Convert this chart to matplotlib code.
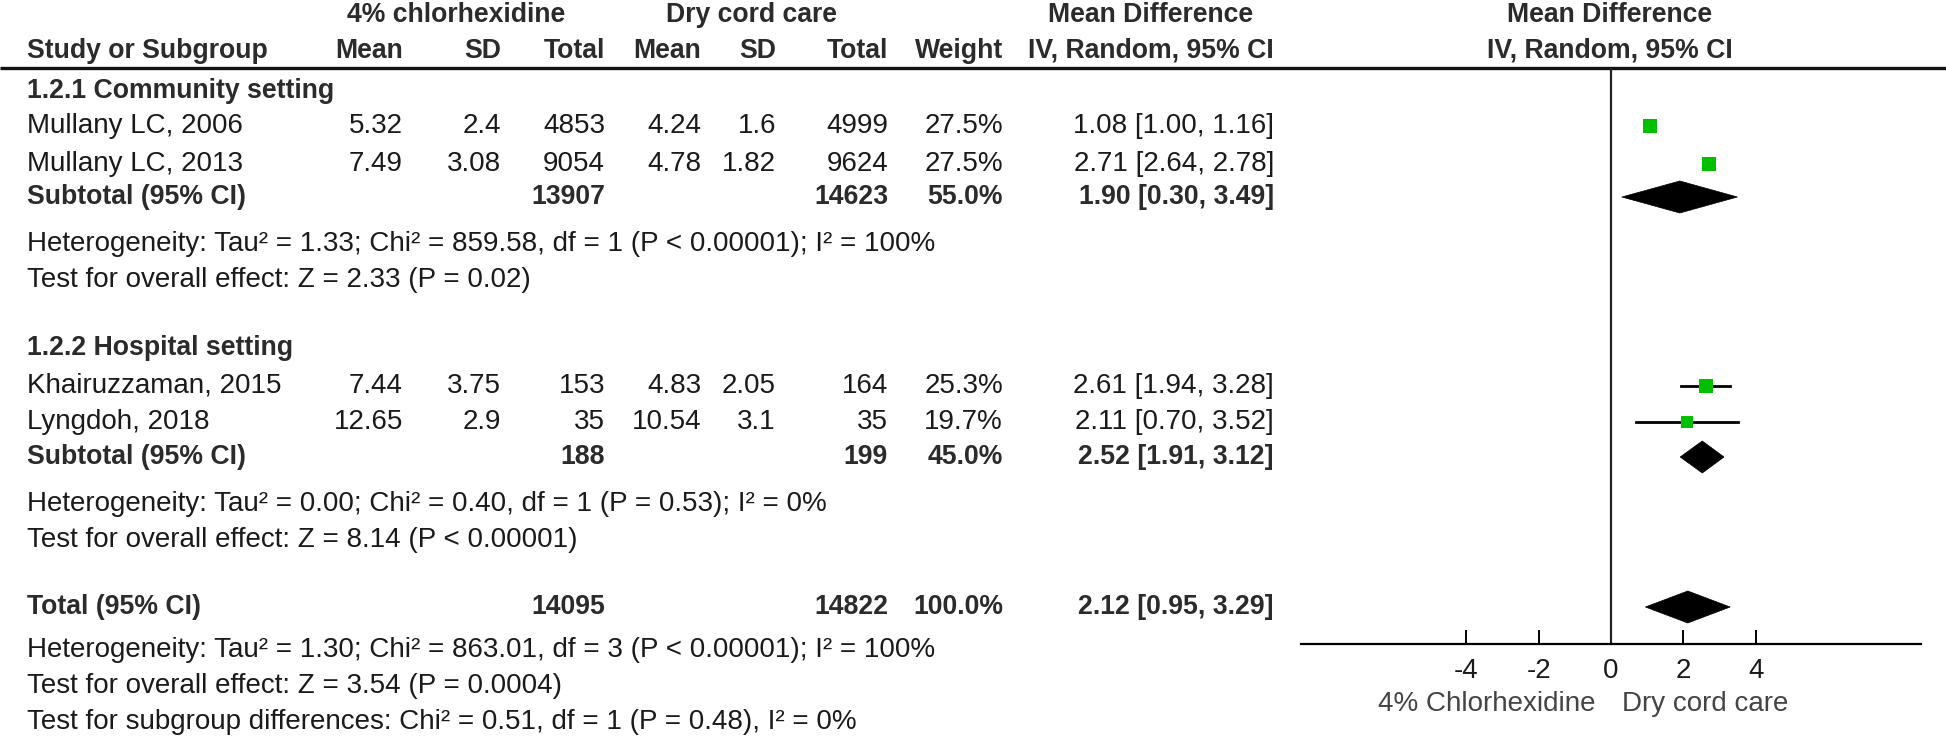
import matplotlib
matplotlib.use("Agg")
import matplotlib.pyplot as plt
from matplotlib.patches import Polygon
import numpy as np

plt.rcParams["font.family"] = ["Liberation Sans", "DejaVu Sans"]

# ---- data ----
studies = ["Mullany LC, 2006", "Mullany LC, 2013", "Khairuzzaman, 2015", "Lyngdoh, 2018"]
chx_mean = [5.32, 7.49, 7.44, 12.65]
chx_sd = [2.4, 3.08, 3.75, 2.9]
chx_n = [4853, 9054, 153, 35]
dry_mean = [4.24, 4.78, 4.83, 10.54]
dry_sd = [1.6, 1.82, 2.05, 3.1]
dry_n = [4999, 9624, 164, 35]
weight = [27.5, 27.5, 25.3, 19.7]
md = [1.08, 2.71, 2.61, 2.11]
md_lo = [1.00, 2.64, 1.94, 0.70]
md_hi = [1.16, 2.78, 3.28, 3.52]

groups = ["1.2.1 Community setting", "1.2.2 Hospital setting"]
pool_label = ["Subtotal (95% CI)", "Subtotal (95% CI)", "Total (95% CI)"]
pool_chx_n = [13907, 188, 14095]
pool_dry_n = [14623, 199, 14822]
pool_weight = [55.0, 45.0, 100.0]
pool_md = [1.90, 2.52, 2.12]
pool_lo = [0.30, 1.91, 0.95]
pool_hi = [3.49, 3.12, 3.29]
pool_notes = [
    ["Heterogeneity: Tau\u00b2 = 1.33; Chi\u00b2 = 859.58, df = 1 (P < 0.00001); I\u00b2 = 100%",
     "Test for overall effect: Z = 2.33 (P = 0.02)"],
    ["Heterogeneity: Tau\u00b2 = 0.00; Chi\u00b2 = 0.40, df = 1 (P = 0.53); I\u00b2 = 0%",
     "Test for overall effect: Z = 8.14 (P < 0.00001)"],
    ["Heterogeneity: Tau\u00b2 = 1.30; Chi\u00b2 = 863.01, df = 3 (P < 0.00001); I\u00b2 = 100%",
     "Test for overall effect: Z = 3.54 (P = 0.0004)",
     "Test for subgroup differences: Chi\u00b2 = 0.51, df = 1 (P = 0.48), I\u00b2 = 0%"],
]
xticks = [-4, -2, 0, 2, 4]
favours = ["4% Chlorhexidine", "Dry cord care"]

# ---- layout (pixels, top-down) ----
W, H = 1946, 738
FS, FSB = 20, 19.2
TXT, TXTB = "#1a1a1a", "#2b2b2b"
GREEN = "#00c000"
y_study = [126, 164, 386, 422]
y_group = [91, 348]
y_pool = [197, 457, 607]
y_note = [[244, 280], [504, 540], [650, 686, 722]]
col_r = [403, 501, 605, 701, 776, 888, 1003, 1274]   # right edges of numeric columns
name_x = 27
ax_l, ax_r, ax_top, ax_bot = 1301, 1921, 68, 644
XLIM = 8.56

fig = plt.figure(figsize=(W / 100, H / 100), dpi=100)
tab = fig.add_axes([0, 0, 1, 1])
tab.set_xlim(0, W); tab.set_ylim(H, 0); tab.axis("off")


def put(x, y, s, ha="left", bold=False, color=None, size=None):
    tab.text(x, y, s, ha=ha, va="center",
             fontsize=size or (FSB if bold else FS),
             color=color or (TXTB if bold else TXT),
             fontweight="bold" if bold else "normal")


# header
put(456, 15, "4% chlorhexidine", ha="center", bold=True)
put(751, 15, "Dry cord care", ha="center", bold=True)
put(1151, 15, "Mean Difference", ha="center", bold=True)
put(1610, 15, "Mean Difference", ha="center", bold=True)
put(name_x, 51, "Study or Subgroup", bold=True)
for x, s in zip(col_r, ["Mean", "SD", "Total", "Mean", "SD", "Total", "Weight", "IV, Random, 95% CI"]):
    put(x, 51, s, ha="right", bold=True)
put(1610, 51, "IV, Random, 95% CI", ha="center", bold=True)
tab.plot([0, W], [ax_top, ax_top], color="#111111", lw=2.4, solid_capstyle="butt")

# groups and studies
for g, y in zip(groups, y_group):
    put(name_x, y, g, bold=True)
for i, s in enumerate(studies):
    y = y_study[i]
    vals = [f"{chx_mean[i]:g}", f"{chx_sd[i]:g}", f"{chx_n[i]}", f"{dry_mean[i]:g}",
            f"{dry_sd[i]:g}", f"{dry_n[i]}", f"{weight[i]:.1f}%",
            f"{md[i]:.2f} [{md_lo[i]:.2f}, {md_hi[i]:.2f}]"]
    put(name_x, y, s)
    for x, v in zip(col_r, vals):
        put(x, y, v, ha="right")

# pooled rows + notes
for k in range(3):
    y = y_pool[k]
    put(name_x, y, pool_label[k], bold=True)
    put(col_r[2], y, f"{pool_chx_n[k]}", ha="right", bold=True)
    put(col_r[5], y, f"{pool_dry_n[k]}", ha="right", bold=True)
    put(col_r[6], y, f"{pool_weight[k]:.1f}%", ha="right", bold=True)
    put(col_r[7], y, f"{pool_md[k]:.2f} [{pool_lo[k]:.2f}, {pool_hi[k]:.2f}]", ha="right", bold=True)
    for s, yy in zip(pool_notes[k], y_note[k]):
        put(name_x, yy, s)

# ---- forest panel ----
fp = fig.add_axes([ax_l / W, (H - ax_bot) / H, (ax_r - ax_l) / W, (ax_bot - ax_top) / H])
fp.set_xlim(-XLIM, XLIM)
fp.set_ylim(ax_bot, ax_top)
fp.patch.set_alpha(0)
for side in ["top", "left", "right"]:
    fp.spines[side].set_visible(False)
fp.spines["bottom"].set_linewidth(1.6)
fp.set_yticks([])
fp.set_xticks(xticks)
fp.set_xticklabels([str(t) for t in xticks])
fp.tick_params(axis="x", direction="in", length=10, width=1.4, labelsize=FS, pad=10,
               labelcolor=TXT)
fp.axvline(0, color="#222222", lw=1.6)

for i in range(len(studies)):
    fp.plot([md_lo[i], md_hi[i]], [y_study[i], y_study[i]], color="black", lw=2)
    fp.plot(md[i], y_study[i], marker="s", ls="none", color=GREEN,
            markersize=2.67 * np.sqrt(weight[i]) * 0.72, markeredgewidth=0)

for k in range(3):
    y = y_pool[k]
    fp.add_patch(Polygon([[pool_lo[k], y], [pool_md[k], y - 16], [pool_hi[k], y], [pool_md[k], y + 16]],
                         closed=True, facecolor="black", edgecolor="black", lw=0.5))

put(1596, 704, favours[0], ha="right", color="#444444")
put(1622, 704, favours[1], color="#444444")

fig.savefig("out.png", dpi=100)
